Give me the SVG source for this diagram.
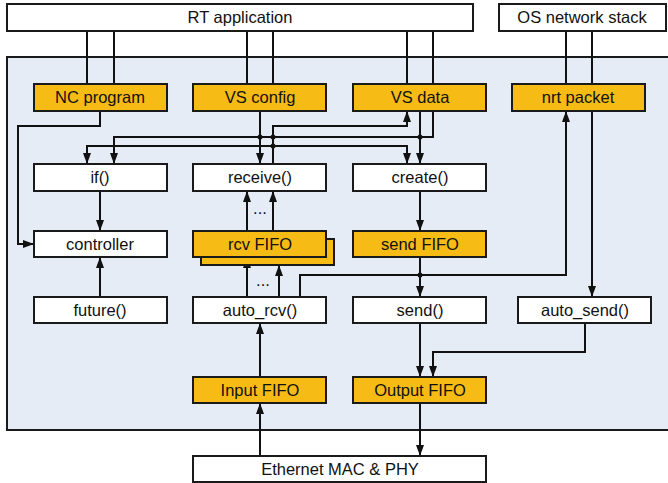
<svg xmlns="http://www.w3.org/2000/svg" width="668" height="483" viewBox="0 0 668 483">
<defs>
<marker id="ah" viewBox="0 0 11 8" refX="11" refY="4" markerWidth="11" markerHeight="8" markerUnits="userSpaceOnUse" orient="auto">
<path d="M0,0 L11,4 L0,8 z" fill="#111"/>
</marker>
</defs>
<style>
.box{fill:#ffffff;stroke:#1a1a1a;stroke-width:2}
.org{fill:#f7bb16;stroke:#1a1a1a;stroke-width:2}
.t{font-family:"Liberation Sans",Arial,sans-serif;font-size:16.5px;fill:#111;text-anchor:middle}
.c{fill:none;stroke:#111;stroke-width:2}
.a{marker-end:url(#ah)}
.dot{fill:#111}
</style>
<rect x="7" y="57" width="670" height="373" fill="#e6ecf5" stroke="#1a1a1a" stroke-width="2"/>

<g id="connectors">
<path class="c" d="M87,31 V84 M114,31 V84"/>
<path class="c" d="M247,31 V84 M273,31 V84"/>
<path class="c" d="M407,31 V84 M433,31 V84"/>
<path class="c" d="M566,31 V84 M592,31 V84"/>
<path class="c a" d="M100,111 V126 H18 V244 H34"/>
<path class="c a" d="M260,111 V164"/>
<path class="c a" d="M273,164 V126 H407 V111"/>
<path class="c a" d="M433,111 V137 H114 V164"/>
<path class="c a" d="M420,111 V164"/>
<path class="c a" d="M273,146 H87 V164"/>
<path class="c a" d="M273,146 H407 V164"/>
<path class="c a" d="M100,191 V231"/>
<path class="c a" d="M100,297 V257"/>
<path class="c a" d="M247,231 V191"/>
<path class="c a" d="M273,231 V191"/>
<path class="c a" d="M247,297 V257"/>
<path class="c a" d="M279,297 V265"/>
<path class="c a" d="M300,297 V275 H566 V111"/>
<path class="c a" d="M592,111 V297"/>
<path class="c a" d="M420,191 V231"/>
<path class="c a" d="M420,257 V297"/>
<path class="c a" d="M420,323 V377"/>
<path class="c a" d="M585,323 V352 H433 V377"/>
<path class="c a" d="M420,403 V456"/>
<path class="c a" d="M260,456 V403"/>
<path class="c a" d="M260,377 V323"/>
<circle class="dot" cx="260" cy="137" r="2.5"/>
<circle class="dot" cx="273" cy="137" r="2.5"/>
<circle class="dot" cx="273" cy="146" r="2.5"/>
<circle class="dot" cx="420" cy="137" r="2.5"/>
<circle class="dot" cx="420" cy="275" r="2.5"/>
<text class="t" x="260" y="214">...</text>
<text class="t" x="263" y="286">...</text>
</g>

<g id="rt-app"><rect class="box" x="7" y="4" width="466" height="27"/><text class="t" x="240" y="23">RT application</text></g>
<g id="os-stack"><rect class="box" x="499" y="4" width="167" height="27"/><text class="t" x="582" y="23">OS network stack</text></g>

<g id="nc-program"><rect class="org" x="34" y="84" width="133" height="27"/><text class="t" x="100" y="103">NC program</text></g>
<g id="vs-config"><rect class="org" x="193" y="84" width="133" height="27"/><text class="t" x="260" y="103">VS config</text></g>
<g id="vs-data"><rect class="org" x="353" y="84" width="133" height="27"/><text class="t" x="420" y="103">VS data</text></g>
<g id="nrt-packet"><rect class="org" x="512" y="84" width="133" height="27"/><text class="t" x="578" y="103">nrt packet</text></g>

<g id="if"><rect class="box" x="34" y="164" width="133" height="27"/><text class="t" x="100" y="183">if()</text></g>
<g id="receive"><rect class="box" x="193" y="164" width="133" height="27"/><text class="t" x="260" y="183">receive()</text></g>
<g id="create"><rect class="box" x="353" y="164" width="133" height="27"/><text class="t" x="420" y="183">create()</text></g>

<g id="controller"><rect class="box" x="34" y="231" width="133" height="26"/><text class="t" x="100" y="250">controller</text></g>
<g id="rcv-fifo"><rect class="org" x="201" y="239" width="133" height="26"/><rect class="org" x="193" y="231" width="133" height="26"/><text class="t" x="260" y="250">rcv FIFO</text></g>
<g id="send-fifo"><rect class="org" x="353" y="231" width="133" height="26"/><text class="t" x="420" y="250">send FIFO</text></g>

<g id="future"><rect class="box" x="34" y="297" width="133" height="26"/><text class="t" x="100" y="316">future()</text></g>
<g id="auto-rcv"><rect class="box" x="193" y="297" width="133" height="26"/><text class="t" x="260" y="316">auto_rcv()</text></g>
<g id="send"><rect class="box" x="353" y="297" width="133" height="26"/><text class="t" x="420" y="316">send()</text></g>
<g id="auto-send"><rect class="box" x="518" y="297" width="133" height="26"/><text class="t" x="585" y="316">auto_send()</text></g>

<g id="input-fifo"><rect class="org" x="193" y="377" width="133" height="26"/><text class="t" x="260" y="396">Input FIFO</text></g>
<g id="output-fifo"><rect class="org" x="353" y="377" width="133" height="26"/><text class="t" x="420" y="396">Output FIFO</text></g>

<g id="ethernet"><rect class="box" x="193" y="456" width="293" height="26"/><text class="t" x="340" y="475">Ethernet MAC &amp; PHY</text></g>
</svg>
